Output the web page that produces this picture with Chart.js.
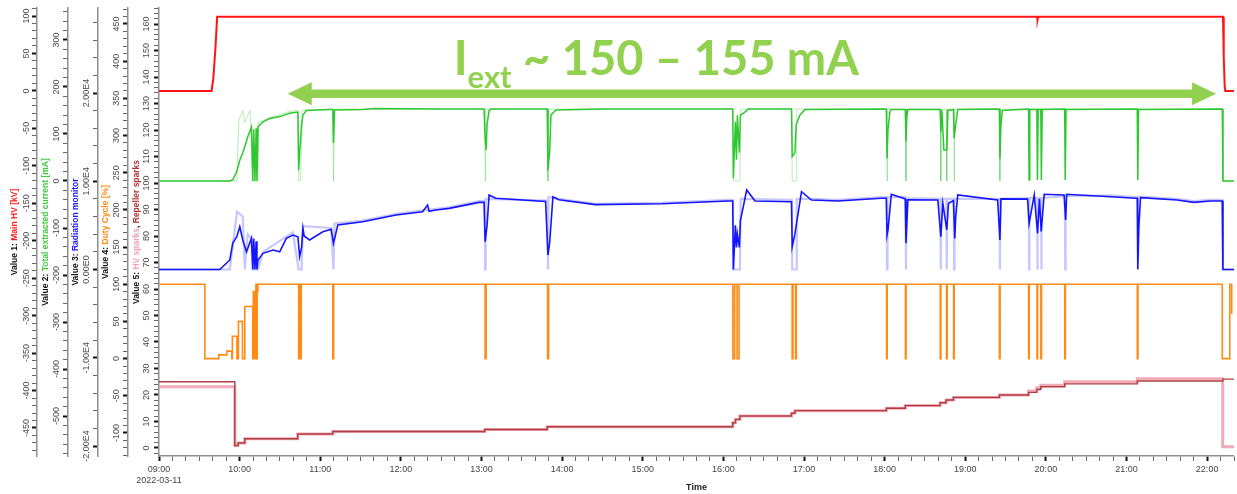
<!DOCTYPE html>
<html>
<head>
<meta charset="utf-8">
<title>Run log 2022-03-11</title>
<script src="https://cdn.jsdelivr.net/npm/chart.js@4.4.0/dist/chart.umd.min.js"></script>
<style>
  html, body { margin: 0; padding: 0; background: #fff; }
  #wrap { width: 1237px; height: 494px; position: relative; }
</style>
</head>
<body>
<div id="wrap"><canvas id="runChart"></canvas></div>
<script>
/*************************
 DATA  (time in decimal hours of 2022-03-11)
**************************/
const RUN_DATE = "2022-03-11";
const X_MIN = 9;
const X_MAX = 22 + 20 / 60;

// Value 1: Main HV [kV]
const hvTime = [9.000, 9.652, 9.672, 9.684, 9.701, 9.721, 19.890, 19.897, 19.905, 22.197, 22.206, 22.218, 22.225, 22.333];
const hvKV   = [0, 0, 15, 32, 59, 99, 99, 95, 99, 99, 46, 6, 0, 0];

// Value 2: Total extracted current [mA] (mean)
const curTime = [9.000, 9.878, 9.915, 9.965, 10.002, 10.039, 10.064, 10.101, 10.147, 10.163, 10.175, 10.190, 10.205, 10.215, 10.228,
  10.290, 10.373, 10.497, 10.620, 10.703, 10.723, 10.732, 10.744, 10.769, 10.785, 10.827, 10.951, 11.136, 11.156, 11.164, 11.177,
  11.527, 11.672, 12.500, 13.032, 13.045, 13.057, 13.069, 13.094, 13.119, 13.815, 13.824, 13.845, 13.861, 13.923, 14.500,
  16.116, 16.124, 16.149, 16.162, 16.174, 16.198, 16.211, 16.248, 16.310, 16.845, 16.854, 16.887, 16.903, 16.949, 17.011,
  18.021, 18.030, 18.042, 18.066, 18.083, 18.256, 18.265, 18.277, 18.289, 18.688, 18.697, 18.710, 18.735, 18.771, 18.785,
  18.854, 18.862, 18.882, 18.907, 19.423, 19.430, 19.443, 19.460, 19.785, 19.792, 19.800, 19.888, 19.895, 19.905,
  19.937, 19.944, 19.955, 20.233, 20.240, 20.250, 21.133, 21.140, 21.150, 22.188, 22.196, 22.333];
const curMA = [0, 0, 3, 20, 44, 60, 73, 94, 115, 0, 110, 0, 112, 0, 115,
  126, 133, 137, 144, 146, 146, 23, 60, 120, 140, 150, 151, 152, 152, 81, 151,
  152, 154, 153, 153, 91, 66, 120, 150, 153, 153, 23, 60, 140, 151, 153,
  153, 6, 126, 45, 140, 60, 140, 144, 153, 153, 52, 60, 120, 140, 152,
  153, 48, 110, 148, 152, 152, 84, 140, 152, 152, 105, 150, 66, 66, 150,
  152, 91, 120, 152, 153, 48, 120, 150, 153, 2, 152, 152, 2, 152,
  152, 2, 152, 153, 2, 152, 153, 2, 152, 153, 0, 0];

// Value 2 envelope (min / max trace)
const curEnvTime = [9.000, 9.965, 9.990, 10.039, 10.064, 10.101, 10.130, 10.163, 10.224, 10.237, 10.373, 10.620, 10.723, 10.732,
  10.756, 10.777, 11.156, 11.164, 11.177, 13.040, 13.045, 13.052, 13.820, 13.824, 13.830, 16.118, 16.124, 16.205, 16.215,
  16.850, 16.854, 16.903, 16.910, 18.026, 18.030, 18.036, 18.260, 18.265, 18.270, 18.692, 18.697, 18.702, 18.766, 18.771,
  18.776, 18.857, 18.862, 18.867, 19.426, 19.430, 19.435, 22.188, 22.196, 22.333];
const curEnvMA = [0, 0, 130, 150, 125, 140, 150, 0, 0, 125, 135, 148, 150, 0,
  0, 150, 153, 0, 153, 153, 0, 153, 153, 0, 153, 153, 0, 0, 153,
  153, 0, 0, 153, 153, 0, 153, 153, 0, 153, 153, 0, 153, 153, 0,
  153, 153, 0, 153, 153, 0, 153, 153, 0, 0];

// Value 3: Radiation monitor (mean)
const radTime = [9.000, 9.754, 9.878, 9.915, 9.965, 10.002, 10.039, 10.085, 10.147, 10.163, 10.175, 10.190, 10.205, 10.215, 10.228,
  10.290, 10.414, 10.497, 10.579, 10.661, 10.723, 10.744, 10.769, 10.785, 10.800, 10.868, 11.032, 11.136, 11.164, 11.218,
  11.527, 11.940, 12.269, 12.331, 12.350, 12.435, 12.599, 12.970, 13.032, 13.045, 13.069, 13.094, 13.177, 13.795, 13.824,
  13.845, 13.886, 13.960, 14.414, 15.238, 16.063, 16.116, 16.124, 16.149, 16.162, 16.174, 16.198, 16.211, 16.289, 16.393,
  16.845, 16.854, 16.887, 16.969, 17.093, 17.423, 17.959, 18.021, 18.030, 18.042, 18.083, 18.256, 18.265, 18.289, 18.660,
  18.697, 18.722, 18.762, 18.771, 18.792, 18.854, 18.870, 18.882, 18.907, 19.402, 19.430, 19.443, 19.773, 19.792, 19.856,
  19.897, 19.920, 19.942, 19.979, 20.226, 20.245, 20.258, 20.803, 21.112, 21.133, 21.140, 21.154, 21.174, 21.628, 21.835,
  22.040, 22.188, 22.196, 22.333];
const radCounts = [0, 0, 1080, 3000, 3720, 4850, 3340, 2000, 3530, 0, 3500, 0, 3200, 0, 1080,
  1830, 2200, 2000, 3530, 3900, 3700, 1450, 2500, 4670, 3800, 3340, 4280, 4550, 2970, 5040,
  5420, 6180, 6550, 7300, 6600, 6740, 6930, 7610, 7610, 3150, 5000, 8440, 8070, 7700, 1640,
  3000, 8250, 7900, 7350, 7450, 7760, 7760, 0, 5000, 2500, 4000, 2500, 5500, 9010, 7760,
  7680, 2580, 4000, 8820, 7870, 7760, 8070, 8070, 3900, 4500, 8520, 8000, 2970, 7900, 7870,
  3720, 7500, 5040, 4500, 7500, 7800, 3530, 6000, 8440, 7870, 3340, 8000, 7970, 5230, 8440,
  4100, 8000, 4300, 8520, 8440, 5610, 8520, 8250, 8070, 8070, 0, 5000, 8140, 7870, 7610,
  7760, 7760, 0, 0];

// Value 3 envelope (min / max trace)
const radEnvTime = [9.000, 9.878, 9.968, 10.039, 10.064, 10.101, 10.147, 10.163, 10.228, 10.290, 10.661, 10.732, 10.769, 10.785,
  11.136, 11.164, 11.177, 11.527, 11.940, 12.269, 12.599, 12.970, 13.040, 13.045, 13.052, 13.820, 13.824, 13.830, 13.960,
  14.414, 15.238, 16.063, 16.118, 16.124, 16.205, 16.215, 16.850, 16.854, 16.903, 16.910, 17.093, 17.423, 17.959, 18.026,
  18.030, 18.036, 18.260, 18.265, 18.270, 18.692, 18.697, 18.702, 18.766, 18.771, 18.776, 18.857, 18.862, 18.867, 19.426,
  19.430, 19.435, 19.773, 19.788, 19.792, 19.796, 19.892, 19.895, 19.900, 19.940, 19.944, 19.948, 20.236, 20.240, 20.245,
  20.803, 21.112, 21.174, 21.628, 21.835, 22.040, 22.188, 22.196, 22.333];
const radEnvCounts = [0, 0, 6550, 6000, 0, 4000, 3500, 0, 0, 2000, 4200, 0, 0, 4900,
  4700, 0, 5200, 5550, 6300, 6700, 7050, 7750, 7800, 0, 8000, 7800, 0, 8200, 8000,
  7450, 7550, 7900, 7900, 0, 0, 8000, 7900, 0, 0, 8000, 8000, 7900, 8200, 8200,
  0, 8200, 8200, 0, 8100, 8000, 0, 8000, 8000, 0, 8000, 8000, 0, 8000, 8000,
  0, 8000, 8100, 8100, 0, 8100, 8100, 0, 8100, 8100, 0, 8100, 8300, 0, 8300,
  8400, 8200, 8250, 8000, 7750, 7900, 7900, 0, 0];

// Value 4: Duty Cycle [%]
const dutyTime = [9.000, 9.569, 9.742, 9.841, 9.903, 9.910, 9.967, 9.985, 10.035, 10.064, 10.163, 10.170, 10.178, 10.186,
  10.194, 10.202, 10.210, 10.218, 10.226, 10.732, 10.744, 10.752, 10.764, 11.156, 11.166, 13.045, 13.057, 13.820, 13.832,
  16.118, 16.140, 16.170, 16.195, 16.853, 16.863, 16.895, 16.905, 18.024, 18.032, 18.258, 18.266, 18.690, 18.698, 18.768,
  18.776, 18.855, 18.863, 19.424, 19.432, 19.786, 19.794, 19.890, 19.898, 19.938, 19.946, 20.234, 20.242, 21.134, 21.142,
  22.188, 22.281, 22.305];
const dutyPct = [100, 0, 5, 10, 0, 30, 0, 50, 0, 70, 0, 90, 0, 90,
  0, 100, 0, 90, 100, 0, 100, 0, 100, 0, 100, 0, 100, 0, 100,
  0, 100, 0, 100, 0, 100, 0, 100, 0, 100, 0, 100, 0, 100, 0,
  100, 0, 100, 0, 100, 0, 100, 0, 100, 0, 100, 0, 100, 0, 100,
  0, 100, 60];

// Value 5: Repeller sparks / HV sparks
const sparkTime = [9.000, 9.940, 9.981, 10.064, 10.720, 11.156, 13.040, 13.815, 16.116, 16.150, 16.205, 16.845, 16.887,
  18.021, 18.256, 18.688, 18.762, 18.854, 19.423, 19.785, 19.888, 19.937, 20.233, 21.133, 22.193, 22.333];
const repellerSparks = [25.0, 0.9, 1.9, 3.5, 5.3, 6.2, 7.0, 8.0, 9.5, 10.8, 12.1, 13.1, 14.1,
  15.0, 16.0, 17.1, 18.1, 19.1, 20.0, 21.0, 22.1, 23.1, 24.2, 25.3, 26.0, 26.0];
const hvSparks = [23.1, 0.9, 1.9, 3.5, 5.3, 6.2, 7.0, 8.0, 9.5, 10.8, 12.1, 13.1, 14.1,
  15.0, 16.0, 17.1, 18.1, 19.1, 20.0, 21.5, 22.7, 23.7, 25.0, 26.1, 0.5, 0.5];

// annotation: extracted current band, anchored in data units
const ARROW_FROM = 10.597;
const ARROW_TO = 22.111;
const ARROW_LEVEL = 133.7;   // on the Value 5 axis
const NOTE_AT = 12.655;
const NOTE_LEVEL = 140.7;

/*************************
 HELPERS
**************************/
const FONT = "'Liberation Sans', Arial, sans-serif";

function series(times, values) {
  return times.map((t, i) => ({ x: t, y: values[i] }));
}

function onStep(v, step) {
  const r = v / step;
  return Math.abs(r - Math.round(r)) < 1e-6;
}

function tickValues(min, max, step) {
  const out = [];
  for (let k = Math.ceil(min / step); k * step <= max; k++) out.push({ value: k * step });
  return out;
}

function sci(v) {
  if (v === 0) return "0.00E0";
  const e = Math.floor(Math.log10(Math.abs(v)));
  return (v / Math.pow(10, e)).toFixed(2) + "E" + e;
}

function hh(v) {
  return String(Math.round(v)).padStart(2, "0") + ":00";
}

/*************************
 LEFT AXES
**************************/
function leftAxis(cfg) {
  return {
    type: "linear",
    position: "left",
    weight: cfg.weight,
    min: cfg.min,
    max: cfg.max,
    border: { display: true, color: "#8f8f8f", width: 1.5 },
    grid: {
      drawOnChartArea: false,
      tickLength: 5,
      tickColor: c => (c.tick && onStep(c.tick.value, cfg.label)) ? "#111" : "#666",
      tickWidth: c => (c.tick && onStep(c.tick.value, cfg.label)) ? 2 : 1
    },
    ticks: {
      autoSkip: false,
      minRotation: 90,
      maxRotation: 90,
      crossAlign: "center",
      padding: cfg.pad,
      color: "#4a4a4a",
      font: { family: FONT, size: 9 },
      callback: v => onStep(v, cfg.label) ? cfg.fmt(v) : ""
    },
    afterBuildTicks: s => { s.ticks = tickValues(cfg.min, cfg.max, cfg.minor); },
    afterFit: s => { s.width = cfg.width; }
  };
}

/*************************
 PLUGINS
**************************/
const AXIS_TITLES = [
  { axis: "yHV", parts: [["Value 1: ", "#111"], ["Main HV [kV]", "#ff1a1a"]] },
  { axis: "yCur", parts: [["Value 2: ", "#111"], ["Total extracted current [mA]", "#3ccc3c"]] },
  { axis: "yRad", parts: [["Value 3: ", "#111"], ["Radiation monitor", "#1a1aff"]] },
  { axis: "yDuty", parts: [["Value 4: ", "#111"], ["Duty Cycle [%]", "#ff8c1a"]] },
  { axis: "ySpark", parts: [["Value 5: ", "#111"], ["HV sparks", "#f4a0b4"], [", ", "#111"], ["Repeller sparks", "#b03535"]] }
];

const axisTitles = {
  id: "axisTitles",
  afterDraw(chart) {
    const ctx = chart.ctx;
    AXIS_TITLES.forEach(t => {
      const s = chart.scales[t.axis];
      ctx.save();
      ctx.font = "bold 8.5px " + FONT;
      ctx.textBaseline = "middle";
      ctx.textAlign = "left";
      ctx.translate(s.right - 22.5, (s.top + s.bottom) / 2);
      ctx.rotate(-Math.PI / 2);
      const total = t.parts.reduce((w, p) => w + ctx.measureText(p[0]).width, 0);
      let x = -total / 2;
      t.parts.forEach(([txt, col]) => {
        ctx.fillStyle = col;
        ctx.fillText(txt, x, 0);
        x += ctx.measureText(txt).width;
      });
      ctx.restore();
    });
  }
};

const currentNote = {
  id: "currentNote",
  afterDatasetsDraw(chart) {
    const ctx = chart.ctx;
    const xs = chart.scales.x, ys = chart.scales.ySpark;
    const x0 = xs.getPixelForValue(ARROW_FROM);
    const x1 = xs.getPixelForValue(ARROW_TO);
    const y = ys.getPixelForValue(ARROW_LEVEL);
    const head = 24, half = 11.5, shaft = 4.3;
    ctx.save();
    ctx.fillStyle = "#92d050";
    ctx.beginPath();
    ctx.moveTo(x0, y);
    ctx.lineTo(x0 + head, y - half);
    ctx.lineTo(x0 + head, y - shaft);
    ctx.lineTo(x1 - head, y - shaft);
    ctx.lineTo(x1 - head, y - half);
    ctx.lineTo(x1, y);
    ctx.lineTo(x1 - head, y + half);
    ctx.lineTo(x1 - head, y + shaft);
    ctx.lineTo(x0 + head, y + shaft);
    ctx.lineTo(x0 + head, y + half);
    ctx.closePath();
    ctx.fill();

    let tx = xs.getPixelForValue(NOTE_AT);
    const ty = ys.getPixelForValue(NOTE_LEVEL);
    ctx.textBaseline = "alphabetic";
    ctx.textAlign = "left";
    ctx.font = "bold 47px Lato, 'Open Sans', sans-serif";
    ctx.fillText("I", tx, ty);
    tx += ctx.measureText("I").width;
    ctx.font = "bold 31px Lato, 'Open Sans', sans-serif";
    ctx.fillText("ext", tx, ty + 13);
    tx += ctx.measureText("ext").width;
    ctx.font = "bold 47px Lato, 'Open Sans', sans-serif";
    ctx.fillText(" ~ 150 \u2013 155 mA", tx, ty);
    ctx.restore();
  }
};

/*************************
 CHART
**************************/
const xTicks = [];
for (let k = 0; X_MIN + k / 6 <= X_MAX + 1e-9; k++) xTicks.push({ value: X_MIN + k / 6 });

const runChart = new Chart(document.getElementById("runChart"), {
  type: "line",
  data: {
    datasets: [
      { label: "Main HV [kV]", data: series(hvTime, hvKV), yAxisID: "yHV",
        borderColor: "#ff1414", borderWidth: 2 },
      { label: "Total extracted current [mA]", data: series(curTime, curMA), yAxisID: "yCur",
        borderColor: "#2fc72f", borderWidth: 1.5 },
      { label: "Radiation monitor", data: series(radTime, radCounts), yAxisID: "yRad",
        borderColor: "#1414ff", borderWidth: 1.6 },
      { label: "Duty Cycle [%]", data: series(dutyTime, dutyPct), yAxisID: "yDuty",
        borderColor: "#ff8a14", borderWidth: 1.6, stepped: true },
      { label: "Repeller sparks", data: series(sparkTime, repellerSparks), yAxisID: "ySpark",
        borderColor: "#b04040", borderWidth: 1.4, stepped: true },
      { label: "HV sparks", data: series(sparkTime, hvSparks), yAxisID: "ySpark",
        borderColor: "rgba(238,140,160,0.75)", borderWidth: 3, stepped: true },
      { label: "current min/max", data: series(curEnvTime, curEnvMA), yAxisID: "yCur",
        borderColor: "rgba(50,200,50,0.35)", borderWidth: 1 },
      { label: "radiation min/max", data: series(radEnvTime, radEnvCounts), yAxisID: "yRad",
        borderColor: "rgba(30,30,255,0.25)", borderWidth: 2.2 }
    ]
  },
  options: {
    responsive: true,
    maintainAspectRatio: false,
    animation: false,
    events: [],
    layout: { padding: { left: 6, top: 8, right: 0, bottom: 0 } },
    elements: {
      point: { radius: 0 },
      line: { tension: 0, fill: false }
    },
    plugins: {
      legend: { display: false },
      tooltip: { enabled: false }
    },
    scales: {
      x: {
        type: "linear",
        min: X_MIN,
        max: X_MAX,
        border: { display: true, color: "#8f8f8f", width: 1.5 },
        grid: {
          drawOnChartArea: false,
          tickLength: 5,
          tickColor: c => (c.tick && onStep(c.tick.value, 1)) ? "#111" : "#666",
          tickWidth: c => (c.tick && onStep(c.tick.value, 1)) ? 2 : 1
        },
        ticks: {
          autoSkip: false,
          minRotation: 0,
          maxRotation: 0,
          padding: 3,
          color: "#444",
          font: { family: FONT, size: 9 },
          callback: (v, i) => onStep(v, 1) ? (i === 0 ? [hh(v), RUN_DATE] : hh(v)) : ""
        },
        title: {
          display: true,
          text: "Time",
          color: "#222",
          font: { family: FONT, size: 9, weight: "bold" },
          padding: { top: 0, bottom: 1 }
        },
        afterBuildTicks: s => { s.ticks = xTicks.slice(); },
        afterFit: s => { s.height = 38; }
      },
      yHV: leftAxis({ weight: 5, min: -487.4, max: 110.7, minor: 10, label: 50, width: 31, pad: -3.7, fmt: v => String(v) }),
      yCur: leftAxis({ weight: 4, min: -585, max: 368, minor: 20, label: 100, width: 31, pad: -2.7, fmt: v => String(v) }),
      yRad: leftAxis({ weight: 3, min: -21133, max: 29632, minor: 2000, label: 10000, width: 30, pad: -9.7, fmt: sci }),
      yDuty: leftAxis({ weight: 2, min: -131, max: 471.5, minor: 10, label: 50, width: 30, pad: -3, fmt: v => String(v) }),
      ySpark: leftAxis({ weight: 1, min: -3.02, max: 166.04, minor: 2, label: 10, width: 31, pad: -0.5, fmt: v => String(v) })
    }
  },
  plugins: [axisTitles, currentNote]
});
</script>
</body>
</html>
